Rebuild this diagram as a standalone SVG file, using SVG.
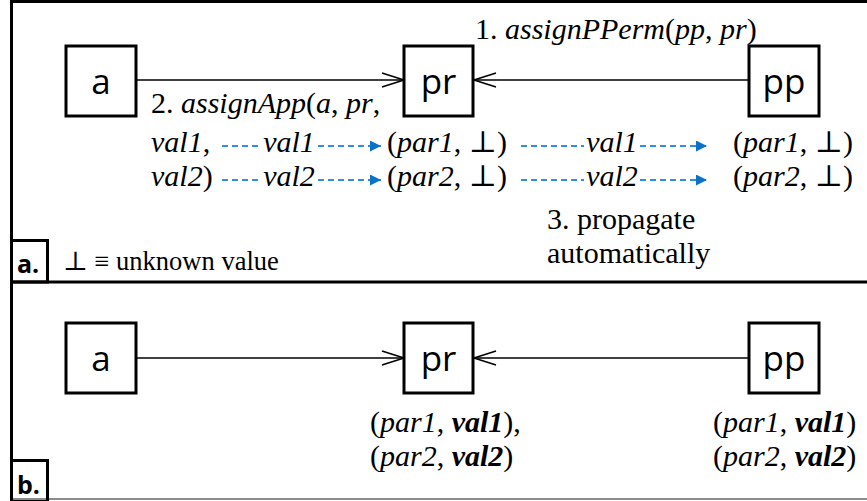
<svg xmlns="http://www.w3.org/2000/svg" width="867" height="501" viewBox="0 0 867 501">
  <defs>
    <style>
      .frame { fill: none; stroke: #000; stroke-width: 3; }
      .node rect { fill: #fff; stroke: #000; stroke-width: 3; }
      .node text { font-family: "Open Sans", "Noto Sans", sans-serif; font-size: 35px; fill: #000; text-anchor: middle; }
      .tag { font-family: "Open Sans", "Noto Sans", sans-serif; font-size: 25px; font-weight: bold; fill: #000; }
      .edge { stroke: #000; stroke-width: 1.6; fill: none; }
      .flow { stroke: #2f8fdc; stroke-width: 2; stroke-dasharray: 6 4; fill: none; }
      .serif text, text.serif { font-family: 'Liberation Serif', 'DejaVu Serif', 'Times New Roman', Times, serif; font-size: 30px; fill: #000; }
      .i { font-style: italic; }
      .bi { font-style: italic; font-weight: bold; }
    </style>
    <marker id="open-arrow" viewBox="0 0 24 16" refX="23" refY="8" markerWidth="24" markerHeight="16" markerUnits="userSpaceOnUse" orient="auto">
      <path d="M1,1 L23,8 L1,15" fill="none" stroke="#000" stroke-width="1.6"/>
    </marker>
    <marker id="flow-arrow" viewBox="0 0 10 10" refX="10" refY="5" markerWidth="11" markerHeight="11" markerUnits="userSpaceOnUse" orient="auto">
      <path d="M0,0 L10,5 L0,10 Z" fill="#0b72c8"/>
    </marker>
  </defs>

  <rect width="867" height="501" fill="#fff"/>

  <!-- panel frames -->
  <g id="frames">
    <line x1="11.5" y1="1.5" x2="867" y2="1.5" class="frame"/>
    <line x1="11.5" y1="0" x2="11.5" y2="501" class="frame"/>
    <line x1="11.5" y1="282" x2="867" y2="282" class="frame"/>
    <line x1="11.5" y1="499" x2="867" y2="499" stroke="#666" stroke-width="1.5"/>
    <rect x="11.5" y="240.5" width="36" height="41.5" class="frame"/>
    <rect x="11.5" y="460.5" width="36" height="41" class="frame"/>
    <text x="17" y="273" class="tag">a.</text>
    <text x="17" y="494" class="tag">b.</text>
  </g>

  <!-- connectors -->
  <g id="connectors">
    <line x1="136" y1="80" x2="404" y2="80" class="edge" marker-end="url(#open-arrow)"/>
    <line x1="749" y1="80" x2="474" y2="80" class="edge" marker-end="url(#open-arrow)"/>
    <line x1="136" y1="358" x2="404" y2="358" class="edge" marker-end="url(#open-arrow)"/>
    <line x1="749" y1="358" x2="474" y2="358" class="edge" marker-end="url(#open-arrow)"/>

    <!-- value propagation (dashed) -->
    <line x1="222" y1="146" x2="262" y2="146" class="flow"/>
    <line x1="318" y1="146" x2="381" y2="146" class="flow" marker-end="url(#flow-arrow)"/>
    <line x1="222" y1="180" x2="262" y2="180" class="flow"/>
    <line x1="318" y1="180" x2="381" y2="180" class="flow" marker-end="url(#flow-arrow)"/>
    <line x1="521" y1="146" x2="584" y2="146" class="flow"/>
    <line x1="640" y1="146" x2="707" y2="146" class="flow" marker-end="url(#flow-arrow)"/>
    <line x1="521" y1="180" x2="584" y2="180" class="flow"/>
    <line x1="640" y1="180" x2="707" y2="180" class="flow" marker-end="url(#flow-arrow)"/>
  </g>

  <!-- panel a nodes -->
  <g id="node-a-top" class="node">
    <rect x="66" y="46" width="70" height="70"/>
    <text x="101" y="94">a</text>
  </g>
  <g id="node-pr-top" class="node">
    <rect x="404" y="46" width="69" height="70"/>
    <text x="438.5" y="94">pr</text>
  </g>
  <g id="node-pp-top" class="node">
    <rect x="749" y="46" width="70" height="70"/>
    <text x="784" y="94">pp</text>
  </g>

  <!-- panel b nodes -->
  <g id="node-a-bottom" class="node">
    <rect x="66" y="323" width="70" height="70"/>
    <text x="101" y="371">a</text>
  </g>
  <g id="node-pr-bottom" class="node">
    <rect x="404" y="323" width="69" height="70"/>
    <text x="438.5" y="371">pr</text>
  </g>
  <g id="node-pp-bottom" class="node">
    <rect x="749" y="323" width="70" height="70"/>
    <text x="784" y="371">pp</text>
  </g>

  <!-- labels, panel a -->
  <g id="labels-top" class="serif">
    <text x="475" y="39">1. <tspan class="i">assignPPerm</tspan>(<tspan class="i">pp</tspan>, <tspan class="i">pr</tspan>)</text>
    <text x="151" y="113">2. <tspan class="i">assignApp</tspan>(<tspan class="i">a</tspan>, <tspan class="i">pr</tspan>,</text>
    <text x="151" y="152"><tspan class="i">val1</tspan>,</text>
    <text x="151" y="186"><tspan class="i">val2</tspan>)</text>
    <text x="289" y="152" class="i" text-anchor="middle">val1</text>
    <text x="289" y="186" class="i" text-anchor="middle">val2</text>
    <text x="612" y="152" class="i" text-anchor="middle">val1</text>
    <text x="612" y="186" class="i" text-anchor="middle">val2</text>
    <text x="387" y="152">(<tspan class="i">par1</tspan>, ⊥)</text>
    <text x="387" y="186">(<tspan class="i">par2</tspan>, ⊥)</text>
    <text x="733" y="152">(<tspan class="i">par1</tspan>, ⊥)</text>
    <text x="733" y="186">(<tspan class="i">par2</tspan>, ⊥)</text>
    <text x="547" y="229">3. propagate</text>
    <text x="547" y="263">automatically</text>
    <text x="63" y="270" style="font-size:26.5px">⊥ ≡ unknown value</text>
  </g>

  <!-- labels, panel b -->
  <g id="labels-bottom" class="serif">
    <text x="370" y="432">(<tspan class="i">par1</tspan>, <tspan class="bi">val1</tspan>),</text>
    <text x="370" y="466">(<tspan class="i">par2</tspan>, <tspan class="bi">val2</tspan>)</text>
    <text x="713" y="432">(<tspan class="i">par1</tspan>, <tspan class="bi">val1</tspan>)</text>
    <text x="713" y="466">(<tspan class="i">par2</tspan>, <tspan class="bi">val2</tspan>)</text>
  </g>
</svg>
